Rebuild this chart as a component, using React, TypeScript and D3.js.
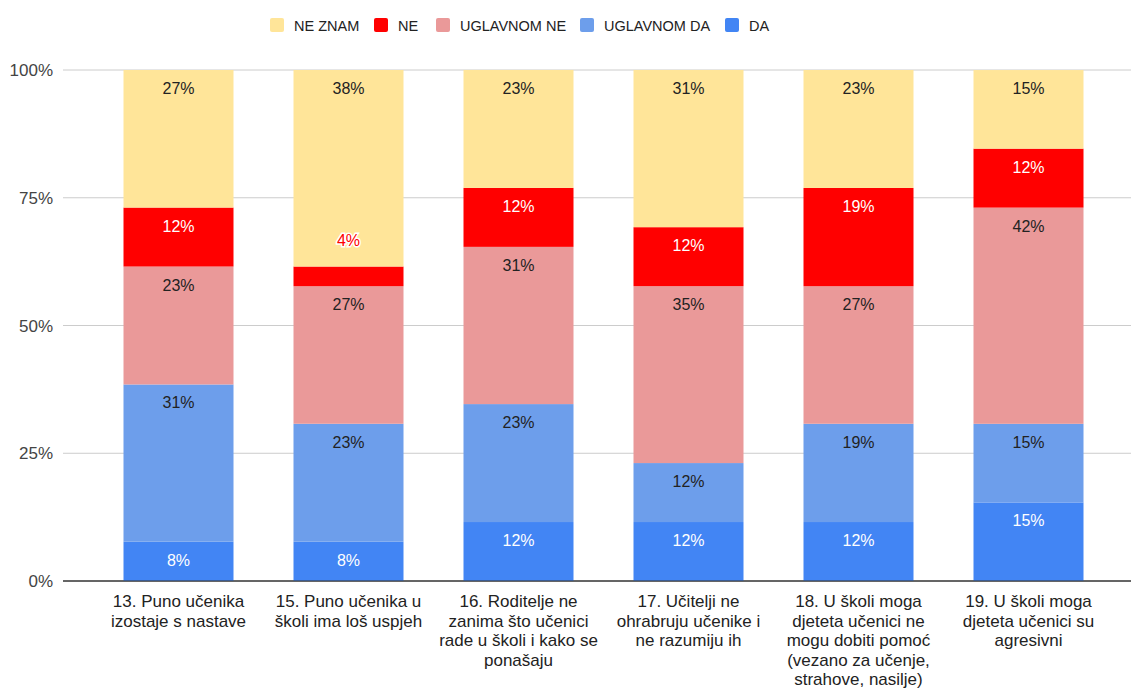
import React from "react";
import * as d3 from "d3";

const categories = [
  ["13. Puno učenika", "izostaje s nastave"],
  ["15. Puno učenika u", "školi ima loš uspjeh"],
  ["16. Roditelje ne", "zanima što učenici", "rade u školi i kako se", "ponašaju"],
  ["17. Učitelji ne", "ohrabruju učenike i", "ne razumiju ih"],
  ["18. U školi moga", "djeteta učenici ne", "mogu dobiti pomoć", "(vezano za učenje,", "strahove, nasilje)"],
  ["19. U školi moga", "djeteta učenici su", "agresivni"],
];

// stacking order bottom -> top
const seriesNames = ["DA", "UGLAVNOM DA", "UGLAVNOM NE", "NE", "NE ZNAM"];
const seriesColors = ["#4285f4", "#6d9eeb", "#ea9999", "#ff0000", "#ffe599"];
const labelColors = ["#fff", "#222", "#222", "#fff", "#222"];

const da = [7.69, 7.69, 11.54, 11.54, 11.54, 15.38];
const uglavnomDa = [30.77, 23.08, 23.08, 11.54, 19.23, 15.38];
const uglavnomNe = [23.08, 26.92, 30.77, 34.62, 26.92, 42.31];
const ne = [11.54, 3.85, 11.54, 11.54, 19.23, 11.54];
const neZnam = [26.92, 38.46, 23.08, 30.77, 23.08, 15.38];

const yTicks = [0, 25, 50, 75, 100];

const values = [da, uglavnomDa, uglavnomNe, ne, neZnam];

const rows = categories.map((_, i) => {
  const r: Record<string, number> = { idx: i };
  seriesNames.forEach((s, k) => (r[s] = values[k][i]));
  return r;
});

const W = 1131;
const H = 688;
const font = "Arial, 'Liberation Sans', sans-serif";

export default function App() {
  const x = d3
    .scaleBand<number>()
    .domain(categories.map((_, i) => i))
    .range([93.5, 1113.5])
    .paddingInner(60 / 170)
    .paddingOuter(30 / 170);
  const y = d3.scaleLinear().domain([0, 100]).range([581, 70]);

  const stack = d3.stack<Record<string, number>>().keys(seriesNames);
  const layers = stack(rows);

  const legendOrder = [4, 3, 2, 1, 0];
  const legendX = [270, 374, 436, 580, 725];

  return (
    <svg width={W} height={H} style={{ position: "absolute", left: 0, top: 0 }}>
      <rect width={W} height={H} fill="#fff" />
      {/* legend */}
      {legendOrder.map((k, j) => (
        <g key={k}>
          <rect x={legendX[j]} y={18} width={14} height={14} rx={2} fill={seriesColors[k]} />
          <text x={legendX[j] + 24} y={30.5} fontFamily={font} fontSize={14.5} fill="#222">
            {seriesNames[k]}
          </text>
        </g>
      ))}
      {/* grid */}
      {yTicks.map((t) => (
        <g key={t}>
          <line
            x1={63}
            x2={1131}
            y1={y(t)}
            y2={y(t)}
            stroke={t === 0 ? "#333" : "#ccc"}
            strokeWidth={1}
          />
          <text
            x={53}
            y={y(t) + 6}
            textAnchor="end"
            fontFamily={font}
            fontSize={17}
            fill="#444"
          >
            {t}%
          </text>
        </g>
      ))}
      {/* bars */}
      {layers.map((layer, k) =>
        layer.map((d, i) => (
          <rect
            key={`${k}-${i}`}
            x={x(i)}
            y={y(d[1])}
            width={x.bandwidth()}
            height={y(d[0]) - y(d[1])}
            fill={seriesColors[k]}
          />
        ))
      )}
      <line x1={63} x2={1131} y1={y(0)} y2={y(0)} stroke="#333" />
      {/* value labels */}
      {layers.map((layer, k) =>
        layer.map((d, i) => {
          const v = values[k][i];
          const h = y(d[0]) - y(d[1]);
          const cx = (x(i) as number) + x.bandwidth() / 2;
          const small = h < 20;
          const cy = small ? y(d[1]) - 27 : y(d[1]) + 18;
          return (
            <text
              key={`l-${k}-${i}`}
              x={cx}
              y={cy + 6}
              textAnchor="middle"
              fontFamily={font}
              fontSize={16}
              fill={small ? seriesColors[k] : labelColors[k]}
              stroke={small ? "#fff" : "none"}
              strokeWidth={small ? 3 : 0}
              paintOrder="stroke"
            >
              {Math.round(v)}%
            </text>
          );
        })
      )}
      {/* category labels */}
      {categories.map((lines, i) => (
        <text
          key={`c-${i}`}
          textAnchor="middle"
          fontFamily={font}
          fontSize={17}
          fill="#222"
        >
          {lines.map((ln, j) => (
            <tspan key={j} x={(x(i) as number) + x.bandwidth() / 2} y={607 + j * 19.6}>
              {ln}
            </tspan>
          ))}
        </text>
      ))}
    </svg>
  );
}
